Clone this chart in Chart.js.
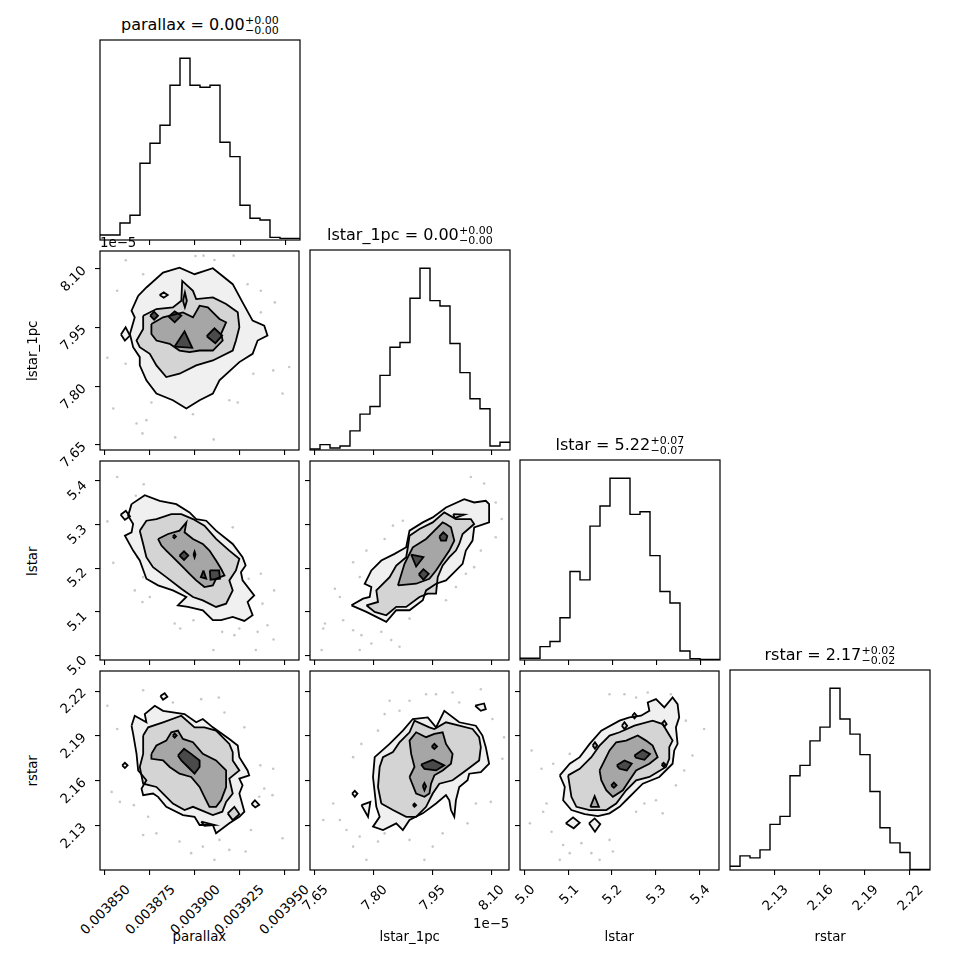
<!DOCTYPE html>
<html><head><meta charset="utf-8">
<script src="https://cdn.jsdelivr.net/npm/chart.js@4.4.1/dist/chart.umd.min.js"></script>
<style>
html,body{margin:0;padding:0;background:#fff;}
#fig{position:relative;width:970px;height:970px;overflow:hidden;background:#fff;font-family:"DejaVu Sans",sans-serif;color:#000;}
#fig canvas{position:absolute;}
.t{position:absolute;white-space:nowrap;line-height:1;font-family:"DejaVu Sans",sans-serif;color:#000;}
</style></head><body><div id="fig"></div>
<script>
// ---------------- DATA ----------------
const VARS = ['parallax', 'lstar_1pc', 'lstar', 'rstar'];
// axis ranges (lstar_1pc in units of 1e-5)
const RANGES = [[0.0038472, 0.0039583], [7.6373, 8.1458], [4.990, 5.4445], [2.100, 2.2335]];
const TICKS = [[0.003850, 0.003875, 0.003900, 0.003925, 0.003950], [7.65, 7.80, 7.95, 8.10], [5.0, 5.1, 5.2, 5.3, 5.4], [2.13, 2.16, 2.19, 2.22]];
const TICK_DECIMALS = [6, 2, 1, 2];
const OFFSET_TEXT = '1e\u22125';

const TITLE_MED = ['0.00', '0.00', '5.22', '2.17'];
const TITLE_PLUS = ['+0.00', '+0.00', '+0.07', '+0.02'];
const TITLE_MINUS = ['\u22120.00', '\u22120.00', '\u22120.07', '\u22120.02'];

// 1-D histograms (20 bins each)
const hist_parallax = [15, 15, 51, 74, 230, 290, 344, 464, 545, 464, 458, 464, 293, 250, 104, 65, 60, 8, 5, 5];
const hist_lstar_1pc = [3, 16, 6, 12, 57, 107, 130, 223, 307, 321, 453, 543, 446, 430, 318, 231, 153, 123, 12, 23];
const hist_lstar = [5, 5, 40, 55, 126, 264, 239, 399, 459, 542, 542, 434, 442, 311, 204, 170, 27, 4, 2, 2];
const hist_rstar = [11, 42, 36, 60, 136, 160, 281, 312, 385, 426, 542, 450, 405, 344, 234, 126, 81, 52, 2, 2];

// 2-D panels: outlying samples and density contours [level (4 = outermost .. 1 = innermost), polygon]
const dots_par_l1 = [[0.0038616,8.1221],[0.0039005,8.1331],[0.0039050,8.1339],[0.0039111,8.1229],[0.0039218,8.1339],[0.0038568,8.0441],[0.0038713,8.0865],[0.0039296,8.0610],[0.0039370,8.0441],[0.0039448,8.0144],[0.0039370,7.9890],[0.0038513,7.8729],[0.0038615,7.8576],[0.0038759,7.7585],[0.0038676,7.7051],[0.0038731,7.7136],[0.0038709,7.6797],[0.0038892,7.6695],[0.0038991,7.7288],[0.0039107,7.6644],[0.0039194,7.7644],[0.0039241,7.7585],[0.0039328,7.8322],[0.0039439,7.8407],[0.0039491,7.7814],[0.0038546,7.7432],[0.0039528,7.8492]];
const cont_par_l1 = [
 [4, [[0.0038685,8.0314],[0.0038731,8.0526],[0.0038824,8.0907],[0.0038916,8.1034],[0.0039000,8.0865],[0.0039102,8.1017],[0.0039213,8.0610],[0.0039268,8.0144],[0.0039324,7.9678],[0.0039389,7.9551],[0.0039407,7.9297],[0.0039352,7.9170],[0.0039324,7.8831],[0.0039250,7.8619],[0.0039139,7.8153],[0.0039102,7.7814],[0.0039028,7.7644],[0.0038954,7.7432],[0.0038879,7.7644],[0.0038787,7.7814],[0.0038731,7.8153],[0.0038694,7.8534],[0.0038694,7.8746],[0.0038657,7.9000],[0.0038639,7.9339],[0.0038666,7.9763],[0.0038648,7.9932]]],
 [4, [[0.0038589,7.9322],[0.0038615,7.9509],[0.0038639,7.9297],[0.0038611,7.9170]]],
 [4, [[0.0038805,8.0331],[0.0038828,8.0399],[0.0038850,8.0331],[0.0038828,8.0263]]],
 [3, [[0.0038713,7.9805],[0.0038787,7.9975],[0.0038879,8.0017],[0.0038926,8.0187],[0.0038931,8.0695],[0.0038991,8.0441],[0.0039009,8.0229],[0.0039102,8.0271],[0.0039176,8.0102],[0.0039241,7.9890],[0.0039250,7.9509],[0.0039231,7.9170],[0.0039213,7.8915],[0.0039102,7.8661],[0.0039009,7.8534],[0.0038916,7.8322],[0.0038842,7.8237],[0.0038787,7.8534],[0.0038750,7.8831],[0.0038694,7.9000],[0.0038676,7.9170],[0.0038713,7.9466]]],
 [2, [[0.0038759,7.9593],[0.0038824,7.9763],[0.0038935,7.9890],[0.0038991,7.9763],[0.0039028,8.0060],[0.0039074,8.0017],[0.0039102,7.9890],[0.0039139,7.9721],[0.0039176,7.9636],[0.0039148,7.9339],[0.0039157,7.9170],[0.0039102,7.8915],[0.0039028,7.8915],[0.0038972,7.8873],[0.0038916,7.8915],[0.0038861,7.9085],[0.0038787,7.9170],[0.0038759,7.9339]]],
 [2, [[0.0038935,8.0187],[0.0038946,8.0399],[0.0038957,8.0187],[0.0038946,8.0017]]],
 [1, [[0.0038752,7.9805],[0.0038774,7.9907],[0.0038796,7.9805],[0.0038774,7.9704]]],
 [1, [[0.0038855,7.9780],[0.0038889,7.9916],[0.0038926,7.9805],[0.0038889,7.9636]]],
 [1, [[0.0038889,7.9017],[0.0038944,7.9407],[0.0038987,7.8983]]],
 [1, [[0.0039068,7.9280],[0.0039111,7.9483],[0.0039154,7.9297],[0.0039116,7.9102]]]
];

const dots_par_ls = [[0.0038568,5.4081],[0.0038716,5.3915],[0.0038672,5.3650],[0.0038513,5.3066],[0.0038546,5.2119],[0.0038681,5.2248],[0.0038713,5.1793],[0.0038666,5.1490],[0.0038709,5.1225],[0.0038750,5.1339],[0.0038889,5.0733],[0.0038920,5.0619],[0.0038994,5.0809],[0.0039105,5.0127],[0.0039154,5.0543],[0.0039222,5.0468],[0.0039250,5.0619],[0.0039302,5.1756],[0.0039370,5.1869],[0.0039379,5.1187],[0.0039444,5.1490],[0.0039407,5.0695],[0.0039441,5.0369],[0.0039342,5.0127],[0.0039213,5.2930],[0.0039352,5.0543]];
const cont_par_ls = [
 [4, [[0.0038648,5.3460],[0.0038722,5.3665],[0.0038805,5.3536],[0.0038898,5.3460],[0.0038972,5.3271],[0.0039009,5.3119],[0.0039065,5.3081],[0.0039120,5.2854],[0.0039213,5.2551],[0.0039268,5.2248],[0.0039285,5.2059],[0.0039259,5.1907],[0.0039268,5.1718],[0.0039333,5.1377],[0.0039296,5.1225],[0.0039324,5.0922],[0.0039278,5.0793],[0.0039213,5.0884],[0.0039148,5.0809],[0.0039102,5.0809],[0.0039046,5.1036],[0.0038963,5.1112],[0.0038907,5.1149],[0.0038954,5.1339],[0.0038879,5.1490],[0.0038796,5.1604],[0.0038731,5.1756],[0.0038694,5.2172],[0.0038657,5.2399],[0.0038611,5.2740],[0.0038648,5.2816],[0.0038657,5.3006],[0.0038629,5.3195]]],
 [4, [[0.0038587,5.3218],[0.0038616,5.3309],[0.0038639,5.3180],[0.0038611,5.3104]]],
 [3, [[0.0038694,5.2854],[0.0038731,5.3081],[0.0038787,5.3119],[0.0038870,5.3233],[0.0038926,5.3233],[0.0038991,5.3119],[0.0039055,5.2968],[0.0039120,5.2665],[0.0039194,5.2399],[0.0039250,5.2210],[0.0039231,5.1945],[0.0039194,5.1718],[0.0039213,5.1490],[0.0039176,5.1187],[0.0039120,5.1112],[0.0039046,5.1263],[0.0038991,5.1339],[0.0038926,5.1528],[0.0038842,5.1793],[0.0038768,5.2021],[0.0038731,5.2248],[0.0038713,5.2551]]],
 [2, [[0.0038796,5.2665],[0.0038852,5.2778],[0.0038916,5.2854],[0.0038954,5.3043],[0.0038944,5.2816],[0.0038991,5.2665],[0.0039046,5.2551],[0.0039083,5.2399],[0.0039120,5.2172],[0.0039148,5.1983],[0.0039167,5.1831],[0.0039120,5.1756],[0.0039102,5.1604],[0.0039055,5.1566],[0.0039009,5.1718],[0.0038972,5.1869],[0.0038935,5.2021],[0.0038879,5.2248],[0.0038842,5.2399],[0.0038815,5.2513]]],
 [1, [[0.0038916,5.2286],[0.0038941,5.2384],[0.0038965,5.2286],[0.0038941,5.2187]]],
 [1, [[0.0038878,5.2718],[0.0038887,5.2756],[0.0038896,5.2718],[0.0038887,5.2680]]],
 [1, [[0.0039085,5.1945],[0.0039137,5.1945],[0.0039142,5.1756],[0.0039089,5.1733]]],
 [1, [[0.0039050,5.1945],[0.0039035,5.1793],[0.0039065,5.1756]]],
 [1, [[0.0038994,5.2309],[0.0039000,5.2377],[0.0039005,5.2309],[0.0039000,5.2240]]]
];

const dots_par_r = [[0.0038513,2.2102],[0.0038568,2.1946],[0.0038713,2.2206],[0.0038879,2.2124],[0.0039037,2.2146],[0.0039135,2.2157],[0.0039167,2.2057],[0.0039278,2.1957],[0.0039367,2.1702],[0.0039439,2.1679],[0.0039389,2.1546],[0.0039435,2.1502],[0.0039361,2.1491],[0.0038583,2.1457],[0.0038661,2.1435],[0.0038741,2.1357],[0.0038713,2.1235],[0.0038787,2.1246],[0.0038916,2.1191],[0.0038981,2.1113],[0.0039046,2.1157],[0.0039139,2.1202],[0.0039194,2.1135],[0.0039285,2.1124],[0.0039315,2.1268],[0.0039491,2.1213],[0.0039111,2.1068],[0.0038537,2.1524]];
const cont_par_r = [
 [4, [[0.0038648,2.1968],[0.0038666,2.2035],[0.0038731,2.1991],[0.0038722,2.2046],[0.0038778,2.2102],[0.0038824,2.2068],[0.0038944,2.2046],[0.0039009,2.1991],[0.0039046,2.2013],[0.0039102,2.1957],[0.0039194,2.1879],[0.0039241,2.1835],[0.0039250,2.1757],[0.0039296,2.1668],[0.0039305,2.1635],[0.0039250,2.1613],[0.0039268,2.1568],[0.0039250,2.1513],[0.0039278,2.1391],[0.0039250,2.1357],[0.0039194,2.1313],[0.0039120,2.1246],[0.0039102,2.1302],[0.0039028,2.1302],[0.0039000,2.1357],[0.0038935,2.1368],[0.0038842,2.1424],[0.0038796,2.1491],[0.0038768,2.1513],[0.0038713,2.1502],[0.0038704,2.1546],[0.0038731,2.1602],[0.0038685,2.1668],[0.0038676,2.1779],[0.0038657,2.1913]]],
 [4, [[0.0038596,2.1702],[0.0038611,2.1719],[0.0038626,2.1702],[0.0038611,2.1684]]],
 [4, [[0.0038809,2.2168],[0.0038833,2.2186],[0.0038848,2.2162],[0.0038824,2.2142]]],
 [4, [[0.0039318,2.1442],[0.0039337,2.1468],[0.0039361,2.1437],[0.0039339,2.1420]]],
 [3, [[0.0038713,2.1902],[0.0038741,2.1957],[0.0038824,2.1991],[0.0038926,2.2035],[0.0039000,2.1957],[0.0039055,2.1957],[0.0039120,2.1935],[0.0039194,2.1846],[0.0039213,2.1791],[0.0039213,2.1735],[0.0039250,2.1668],[0.0039194,2.1613],[0.0039213,2.1513],[0.0039176,2.1457],[0.0039155,2.1391],[0.0039102,2.1368],[0.0038991,2.1424],[0.0038944,2.1402],[0.0038879,2.1446],[0.0038824,2.1513],[0.0038787,2.1557],[0.0038713,2.1579],[0.0038694,2.1691],[0.0038713,2.1779]]],
 [3, [[0.0039037,2.1324],[0.0039111,2.1302],[0.0039055,2.1297]]],
 [3, [[0.0039185,2.1380],[0.0039222,2.1424],[0.0039250,2.1375],[0.0039213,2.1335]]],
 [2, [[0.0038759,2.1779],[0.0038787,2.1835],[0.0038842,2.1868],[0.0038870,2.1924],[0.0038907,2.1935],[0.0038935,2.1879],[0.0038991,2.1857],[0.0039046,2.1779],[0.0039120,2.1735],[0.0039176,2.1668],[0.0039176,2.1557],[0.0039148,2.1468],[0.0039120,2.1424],[0.0039083,2.1424],[0.0039055,2.1491],[0.0039028,2.1557],[0.0038981,2.1624],[0.0038916,2.1646],[0.0038861,2.1691],[0.0038824,2.1735],[0.0038759,2.1746]]],
 [1, [[0.0038907,2.1768],[0.0038941,2.1813],[0.0038981,2.1779],[0.0039028,2.1735],[0.0039028,2.1691],[0.0039000,2.1646],[0.0038963,2.1691],[0.0038926,2.1735]]],
 [1, [[0.0038878,2.1902],[0.0038889,2.1915],[0.0038900,2.1902],[0.0038889,2.1888]]]
];

const dots_l1_ls = [[8.0483,5.4081],[8.0822,5.3930],[8.1119,5.3498],[8.0822,5.3195],[8.1272,5.3119],[8.1119,5.2703],[8.0738,5.2399],[8.0568,5.2021],[8.0356,5.1869],[8.0102,5.1566],[7.9848,5.1263],[7.8746,5.3081],[7.8492,5.2968],[7.8280,5.2665],[7.7814,5.2399],[7.7475,5.2134],[7.7644,5.1793],[7.7136,5.1339],[7.7009,5.1528],[7.6754,5.0733],[7.6712,5.0619],[7.6670,5.0127],[7.7221,5.0809],[7.7475,5.0581],[7.7687,5.0468],[7.7941,5.0278],[7.7644,5.0127],[7.8195,5.0543],[7.8449,5.0354],[7.8661,5.0202],[7.8916,5.0846]];
const cont_l1_ls = [
 [4, [[7.7432,5.1149],[7.7729,5.1301],[7.7899,5.1339],[7.7941,5.1566],[7.7771,5.1642],[7.7941,5.1945],[7.8195,5.2172],[7.8534,5.2324],[7.8831,5.2475],[7.8916,5.2854],[7.9255,5.3043],[7.9509,5.3157],[7.9848,5.3384],[8.0314,5.3574],[8.0568,5.3498],[8.0865,5.3536],[8.0950,5.3460],[8.0950,5.3043],[8.0568,5.2930],[8.0526,5.2627],[8.0356,5.2399],[8.0272,5.2096],[8.0017,5.1869],[7.9848,5.1718],[7.9594,5.1642],[7.9339,5.1490],[7.9255,5.1263],[7.8916,5.1036],[7.8577,5.1036],[7.8322,5.0771],[7.8068,5.0884],[7.7814,5.0998]]],
 [4, [[8.0034,5.3233],[8.0314,5.3218],[8.0068,5.3142]]],
 [3, [[7.7814,5.1149],[7.8110,5.1225],[7.8068,5.1490],[7.8153,5.1566],[7.8407,5.1793],[7.8577,5.2059],[7.8831,5.2248],[7.8873,5.2475],[7.8916,5.2740],[7.9170,5.2892],[7.9509,5.3043],[7.9805,5.3271],[8.0102,5.3119],[8.0483,5.3119],[8.0568,5.3006],[8.0272,5.2778],[8.0187,5.2551],[8.0102,5.2399],[7.9933,5.2248],[7.9763,5.2059],[7.9636,5.1793],[7.9594,5.1415],[7.9382,5.1415],[7.9170,5.1339],[7.8831,5.1112],[7.8577,5.1112],[7.8322,5.0922],[7.8026,5.0998]]],
 [2, [[7.8619,5.1604],[7.8788,5.2096],[7.9000,5.2475],[7.9339,5.2665],[7.9509,5.2816],[7.9763,5.3043],[7.9848,5.3006],[7.9975,5.2930],[8.0060,5.2627],[7.9933,5.2399],[7.9763,5.2172],[7.9594,5.1945],[7.9424,5.1756],[7.9085,5.1642]]],
 [1, [[7.8958,5.2309],[7.9271,5.2248],[7.9085,5.2036]]],
 [1, [[7.9678,5.2718],[7.9780,5.2816],[7.9882,5.2733],[7.9848,5.2627],[7.9721,5.2627]]],
 [1, [[7.9153,5.1854],[7.9271,5.1975],[7.9407,5.1869],[7.9271,5.1733]]]
];

const dots_l1_r = [[7.9339,2.2179],[8.0017,2.2191],[8.0187,2.2124],[8.0738,2.2213],[8.1034,2.2013],[8.1331,2.1891],[8.1289,2.1746],[8.0992,2.1457],[8.0611,2.1446],[8.0399,2.1313],[7.9763,2.1246],[7.9509,2.1157],[7.9297,2.1068],[7.8916,2.1202],[7.8280,2.1246],[7.8110,2.1191],[7.7644,2.1224],[7.7305,2.1268],[7.6712,2.1335],[7.7136,2.1335],[7.6966,2.1446],[7.7475,2.1757],[7.7687,2.1846],[7.8110,2.1935],[7.8280,2.2046],[7.8407,2.2135],[7.8661,2.2068],[7.8916,2.2135],[7.9594,2.2179],[7.7814,2.1068],[7.7475,2.1157]];
const cont_l1_r = [
 [4, [[7.8068,2.1424],[7.7983,2.1624],[7.8026,2.1757],[7.8407,2.1846],[7.8746,2.1935],[7.9000,2.2013],[7.9382,2.2024],[7.9594,2.1957],[7.9805,2.2068],[8.0187,2.1991],[8.0611,2.1968],[8.0780,2.1902],[8.0865,2.1824],[8.0950,2.1713],[8.0738,2.1657],[8.0441,2.1646],[8.0399,2.1602],[8.0187,2.1557],[8.0102,2.1468],[8.0060,2.1357],[7.9975,2.1402],[7.9933,2.1468],[7.9848,2.1502],[7.9594,2.1446],[7.9255,2.1380],[7.8916,2.1335],[7.8746,2.1268],[7.8577,2.1313],[7.8238,2.1268],[7.7983,2.1291],[7.8153,2.1357]]],
 [4, [[7.7449,2.1513],[7.7517,2.1531],[7.7585,2.1513],[7.7517,2.1491]]],
 [4, [[7.7687,2.1435],[7.7915,2.1457],[7.7856,2.1357]]],
 [4, [[8.0594,2.2102],[8.0822,2.2117],[8.0865,2.2079],[8.0738,2.2068]]],
 [3, [[7.8195,2.1446],[7.8110,2.1557],[7.8153,2.1691],[7.8238,2.1757],[7.8492,2.1791],[7.8661,2.1857],[7.8916,2.1924],[7.9043,2.2002],[7.9424,2.1957],[7.9551,2.1946],[7.9848,2.1991],[8.0187,2.1968],[8.0526,2.1946],[8.0695,2.1891],[8.0738,2.1824],[8.0695,2.1735],[8.0356,2.1668],[8.0017,2.1602],[7.9678,2.1579],[7.9509,2.1513],[7.9339,2.1424],[7.9085,2.1357],[7.8831,2.1357],[7.8492,2.1402]]],
 [2, [[7.8916,2.1624],[7.9043,2.1691],[7.8958,2.1779],[7.8916,2.1868],[7.9085,2.1924],[7.9339,2.1891],[7.9551,2.1913],[7.9763,2.1924],[7.9848,2.1846],[8.0017,2.1779],[7.9975,2.1713],[7.9763,2.1668],[7.9551,2.1635],[7.9466,2.1579],[7.9424,2.1513],[7.9297,2.1491],[7.9085,2.1513]]],
 [1, [[7.9212,2.1708],[7.9509,2.1739],[7.9805,2.1702],[7.9594,2.1668],[7.9297,2.1679]]],
 [1, [[7.9483,2.1828],[7.9551,2.1846],[7.9619,2.1828],[7.9551,2.1811]]],
 [1, [[7.9255,2.1562],[7.9297,2.1584],[7.9339,2.1562],[7.9297,2.1535]]],
 [1, [[7.9000,2.1435],[7.9043,2.1446],[7.9085,2.1435],[7.9043,2.1424]]]
];

const dots_ls_r = [[5.1945,2.2179],[5.2286,2.2179],[5.2552,2.2157],[5.2817,2.2191],[5.3347,2.2179],[5.3688,2.2002],[5.4105,2.1946],[5.3839,2.1768],[5.3650,2.1668],[5.3461,2.1568],[5.3158,2.1380],[5.3006,2.1468],[5.2741,2.1446],[5.2552,2.1391],[5.0165,2.1802],[5.0392,2.1679],[5.0658,2.1713],[5.1036,2.1779],[5.0506,2.1446],[5.0430,2.1391],[5.0127,2.1313],[5.0620,2.1257],[5.0885,2.1168],[5.1036,2.1113],[5.1302,2.1180],[5.0809,2.1068],[5.1945,2.1202],[5.2021,2.1124],[5.1529,2.1113],[5.1718,2.1068]];
const cont_ls_r = [
 [4, [[5.0809,2.1635],[5.1036,2.1713],[5.1264,2.1757],[5.1491,2.1846],[5.1756,2.1935],[5.2173,2.2002],[5.2400,2.2024],[5.2665,2.2035],[5.2855,2.2068],[5.2817,2.2124],[5.3006,2.2146],[5.3196,2.2091],[5.3385,2.2157],[5.3499,2.2113],[5.3536,2.2024],[5.3461,2.1957],[5.3499,2.1846],[5.3423,2.1802],[5.3385,2.1713],[5.3082,2.1624],[5.2703,2.1579],[5.2324,2.1468],[5.2173,2.1424],[5.1945,2.1380],[5.1680,2.1362],[5.1377,2.1375],[5.1074,2.1402],[5.0885,2.1468],[5.0923,2.1557]]],
 [4, [[5.1476,2.1313],[5.1605,2.1346],[5.1733,2.1308],[5.1612,2.1257]]],
 [4, [[5.0945,2.1313],[5.1112,2.1353],[5.1264,2.1317],[5.1127,2.1280]]],
 [3, [[5.0998,2.1635],[5.1264,2.1679],[5.1529,2.1757],[5.1718,2.1835],[5.1945,2.1902],[5.2173,2.1924],[5.2514,2.1968],[5.2930,2.2002],[5.3158,2.1979],[5.3271,2.1924],[5.3385,2.1868],[5.3309,2.1824],[5.3309,2.1746],[5.3233,2.1691],[5.2855,2.1624],[5.2552,2.1602],[5.2324,2.1535],[5.2097,2.1446],[5.1870,2.1402],[5.1491,2.1402],[5.1188,2.1424],[5.1074,2.1491]]],
 [3, [[5.2226,2.1968],[5.2286,2.1991],[5.2347,2.1968],[5.2286,2.1946]]],
 [3, [[5.2461,2.2035],[5.2514,2.2053],[5.2567,2.2035],[5.2514,2.2017]]],
 [3, [[5.3143,2.1984],[5.3196,2.2002],[5.3249,2.1979],[5.3196,2.1962]]],
 [2, [[5.1718,2.1668],[5.1832,2.1735],[5.1945,2.1802],[5.2097,2.1857],[5.2324,2.1868],[5.2589,2.1902],[5.2779,2.1868],[5.2930,2.1835],[5.3044,2.1757],[5.2855,2.1713],[5.2552,2.1668],[5.2400,2.1602],[5.2249,2.1535],[5.2021,2.1491],[5.1870,2.1535],[5.1756,2.1602]]],
 [2, [[5.1559,2.1835],[5.1612,2.1857],[5.1665,2.1835],[5.1612,2.1813]]],
 [2, [[5.1506,2.1424],[5.1605,2.1495],[5.1703,2.1424]]],
 [1, [[5.2112,2.1702],[5.2286,2.1735],[5.2453,2.1713],[5.2339,2.1668],[5.2173,2.1679]]],
 [1, [[5.2514,2.1768],[5.2703,2.1806],[5.2870,2.1779],[5.2741,2.1739],[5.2552,2.1753]]],
 [1, [[5.3135,2.1706],[5.3180,2.1719],[5.3226,2.1706],[5.3180,2.1693]]],
 [1, [[5.1983,2.1568],[5.2044,2.1586],[5.2105,2.1568],[5.2044,2.1551]]]
];

const HISTS = [hist_parallax, hist_lstar_1pc, hist_lstar, hist_rstar];
const PAIRS = [
  {row: 1, col: 0, dots: dots_par_l1, contours: cont_par_l1},
  {row: 2, col: 0, dots: dots_par_ls, contours: cont_par_ls},
  {row: 3, col: 0, dots: dots_par_r, contours: cont_par_r},
  {row: 2, col: 1, dots: dots_l1_ls, contours: cont_l1_ls},
  {row: 3, col: 1, dots: dots_l1_r, contours: cont_l1_r},
  {row: 3, col: 2, dots: dots_ls_r, contours: cont_ls_r}
];

// ---------------- LAYOUT / STYLE ----------------
const fig = document.getElementById('fig');
const SIZE = 200, STEP = 210, X0 = 100, Y0 = 40;
const PL = 8, PT = 3, PR = 3, PB = 8;
const FS = 13.33;
const FILLS = {4: '#f0f0f0', 3: '#d4d4d4', 2: '#a6a6a6', 1: '#4a4a4a'};

const framePlugin = {
  id: 'frame',
  afterDraw(chart) {
    const a = chart.chartArea, ctx = chart.ctx;
    ctx.save();
    ctx.strokeStyle = '#000';
    ctx.lineWidth = 1.2;
    ctx.strokeRect(a.left, a.top, a.right - a.left, a.bottom - a.top);
    ctx.restore();
  }
};

function axis(i, pos) {
  return {
    type: 'linear', position: pos, min: RANGES[i][0], max: RANGES[i][1],
    ticks: {display: false},
    grid: {display: true, drawOnChartArea: false, drawTicks: true, tickLength: 5, color: '#000', lineWidth: 1.1},
    border: {display: false},
    afterBuildTicks: (s) => { s.ticks = TICKS[i].map(v => ({value: v})); },
    afterFit: (s) => { if (pos === 'bottom') s.height = PB; else s.width = PL; }
  };
}

function binEdges(range, n) {
  const out = [];
  for (let k = 0; k <= n; k++) out.push(range[0] + (range[1] - range[0]) * k / n);
  return out;
}

function toPts(arr) { return arr.map(p => ({x: p[0], y: p[1]})); }

function pairDatasets(pair) {
  const ds = [{
    data: toPts(pair.dots), showLine: false, pointRadius: 1.3, pointBorderWidth: 0,
    pointBackgroundColor: 'rgba(0,0,0,0.22)', order: 100
  }];
  pair.contours.forEach(([lvl, poly]) => {
    const closed = toPts(poly.concat([poly[0]]));
    ds.push({data: closed, showLine: true, fill: 'shape', backgroundColor: FILLS[lvl],
      borderColor: 'rgba(0,0,0,0)', borderWidth: 1, pointRadius: 0, order: 10 + lvl * 10});
    ds.push({data: closed, showLine: true, fill: false, borderColor: '#000', borderWidth: 1.8,
      borderJoinStyle: 'miter', pointRadius: 0, order: 1});
  });
  return ds;
}

const built = [];
for (let r = 0; r < 4; r++) {
  for (let c = 0; c <= r; c++) {
    const cv = document.createElement('canvas');
    const w = SIZE + PL + PR, h = SIZE + PT + PB;
    const L = X0 + STEP * c - PL, T = Y0 + STEP * r - PT;
    cv.width = w; cv.height = h;
    cv.style.width = w + 'px'; cv.style.height = h + 'px';
    cv.style.left = L + 'px'; cv.style.top = T + 'px';
    fig.appendChild(cv);

    let datasets, yScale;
    if (r === c) {
      const counts = HISTS[c];
      const edges = binEdges(RANGES[c], counts.length);
      datasets = [{
        data: edges.map((e, k) => ({x: e, y: counts[Math.min(k, counts.length - 1)]})),
        stepped: true, borderColor: '#000', borderWidth: 1.4, pointRadius: 0, fill: false
      }];
      yScale = {type: 'linear', min: 0, max: 1.1 * Math.max(...counts), display: true,
        ticks: {display: false}, grid: {display: false}, border: {display: false},
        afterFit: (s) => { s.width = PL; }};
    } else {
      datasets = pairDatasets(PAIRS.find(p => p.row === r && p.col === c));
      yScale = axis(r, 'left');
    }
    const chart = new Chart(cv, {
      type: 'line',
      data: {datasets},
      options: {
        responsive: false, animation: false, events: [],
        layout: {padding: {top: PT, right: PR, left: 0, bottom: 0}},
        elements: {line: {tension: 0}},
        plugins: {legend: {display: false}, tooltip: {enabled: false}},
        scales: {x: axis(c, 'bottom'), y: yScale}
      },
      plugins: [framePlugin]
    });
    built.push({chart, r, c, L, T});
  }
}

// ---------------- TEXT ----------------
function mkText(str, fs) {
  const d = document.createElement('div');
  d.className = 't';
  d.style.fontSize = fs + 'px';
  d.appendChild(document.createTextNode(str));
  const m = document.createElement('span');
  m.style.cssText = 'display:inline-block;width:0;height:0;vertical-align:baseline';
  d.appendChild(m);
  fig.appendChild(d);
  return {el: d, w: d.offsetWidth, base: m.offsetTop};
}
function putRotated(t, ox, oy, px, py, deg) {
  t.el.style.transformOrigin = ox + 'px ' + oy + 'px';
  t.el.style.transform = 'rotate(' + deg + 'deg)';
  t.el.style.left = (px - ox) + 'px';
  t.el.style.top = (py - oy) + 'px';
}
function putPlain(t, x, baseline) {
  t.el.style.left = x + 'px';
  t.el.style.top = (baseline - t.base) + 'px';
}

built.forEach(({chart, r, c, L, T}) => {
  const a = chart.chartArea;
  const left = L + a.left, right = L + a.right, top = T + a.top, bottom = T + a.bottom;
  const cx = (left + right) / 2, cy = (top + bottom) / 2;
  if (r === 3) {
    TICKS[c].forEach(v => {
      const t = mkText(v.toFixed(TICK_DECIMALS[c]), FS);
      const half = (t.w + 0.73 * FS) / (2 * Math.SQRT2);
      putRotated(t, t.w / 2, t.base - 0.365 * FS, L + chart.scales.x.getPixelForValue(v), bottom + 13 + half, -45);
    });
    const xl = mkText(VARS[c], FS);
    putPlain(xl, cx - xl.w / 2, bottom + 70.7);
  }
  if (c === 0 && r > 0) {
    TICKS[r].forEach(v => {
      const t = mkText(v.toFixed(TICK_DECIMALS[r]), FS);
      const half = (t.w + 0.73 * FS) / (2 * Math.SQRT2);
      putRotated(t, t.w / 2, t.base - 0.365 * FS, left - 13 - half, T + chart.scales.y.getPixelForValue(v) + 9.5, -45);
    });
    const yl = mkText(VARS[r], FS);
    putRotated(yl, yl.w / 2, yl.base, left - 63.3, cy, -90);
  }
  if (r === c) {
    const main = mkText(VARS[c] + ' = ' + TITLE_MED[c], 16);
    const sup = mkText(TITLE_PLUS[c], 11);
    const sub = mkText(TITLE_MINUS[c], 11);
    const total = main.w + Math.max(sup.w, sub.w);
    const x0 = cx - total / 2, base = top - 9.6;
    putPlain(main, x0, base);
    putPlain(sup, x0 + main.w, base - 6.2);
    putPlain(sub, x0 + main.w, base + 3.6);
  }
  if (r === 1 && c === 0) {
    const o = mkText(OFFSET_TEXT, FS);
    putPlain(o, left, top - 3.6);
  }
  if (r === 3 && c === 1) {
    const o = mkText(OFFSET_TEXT, FS);
    putPlain(o, right - o.w, bottom + 58);
  }
});
</script></body></html>
